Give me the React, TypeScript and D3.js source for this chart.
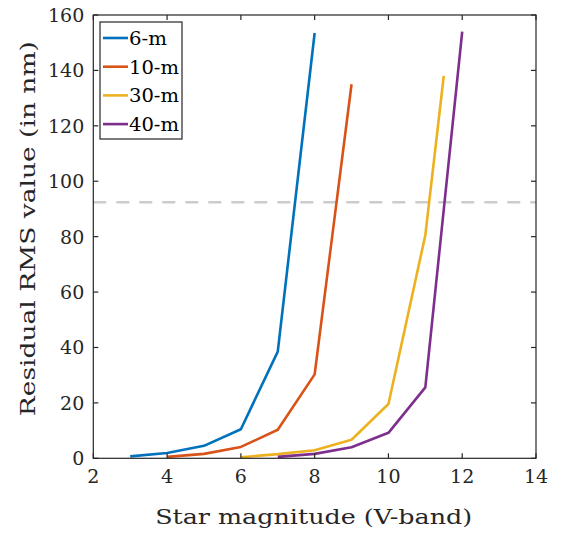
import React from "react";
import * as d3 from "d3";

const seriesNames = ["6-m", "10-m", "30-m", "40-m"];
const colors = ["#0072BD", "#D95319", "#EDB120", "#7E2F8E"];
const mag6 = [3, 4, 5, 6, 7, 8];
const rms6 = [0.7, 1.9, 4.5, 10.5, 38.5, 153.5];
const mag10 = [4, 5, 6, 7, 8, 9];
const rms10 = [0.5, 1.6, 4.1, 10.3, 30.3, 135];
const mag30 = [6, 7, 8, 9, 10, 11, 11.5];
const rms30 = [0.4, 1.5, 2.9, 6.7, 19.6, 80.5, 138];
const mag40 = [7, 8, 9, 10, 11, 12];
const rms40 = [0.5, 1.6, 4.0, 9.2, 25.6, 154];
const xTicks = [2, 4, 6, 8, 10, 12, 14];
const yTicks = [0, 20, 40, 60, 80, 100, 120, 140, 160];
const threshold = 92.4;

export default function App() {
  const W = 570, H = 533;
  const L = 93.3, R = 536, T = 15, B = 458.3;
  const x = d3.scaleLinear().domain([2, 14]).range([L, R]);
  const y = d3.scaleLinear().domain([0, 160]).range([B, T]);
  const line = d3.line<[number, number]>().x(d => x(d[0])).y(d => y(d[1]));
  const series = [
    [mag6, rms6],
    [mag10, rms10],
    [mag30, rms30],
    [mag40, rms40],
  ].map(([m, r]) => m.map((v, i) => [v, r[i]] as [number, number]));
  const font = "DejaVu Serif, serif";
  const axisColor = "#262626";
  const tl = 5;
  return (
    <svg width={W} height={H} style={{ position: "absolute", left: 0, top: 0, fontFamily: font }}>
      <rect width={W} height={H} fill="white" />
      <line x1={L} x2={R} y1={y(threshold)} y2={y(threshold)} stroke="#cccccc" strokeWidth={2.5} strokeDasharray="13,10" />
      {series.map((s, i) => (
        <path key={i} d={line(s) || ""} fill="none" stroke={colors[i]} strokeWidth={2.6} strokeLinejoin="round" />
      ))}
      <rect x={L} y={T} width={R - L} height={B - T} fill="none" stroke={axisColor} strokeWidth={1.2} />
      {xTicks.map(t => (
        <g key={t}>
          <line x1={x(t)} x2={x(t)} y1={B} y2={B - tl} stroke={axisColor} strokeWidth={1.2} />
          <line x1={x(t)} x2={x(t)} y1={T} y2={T + tl} stroke={axisColor} strokeWidth={1.2} />
          <text x={x(t)} y={B + 25} textAnchor="middle" fontSize={19} fill="#262626">{t}</text>
        </g>
      ))}
      {yTicks.map(t => (
        <g key={t}>
          <line x1={L} x2={L + tl} y1={y(t)} y2={y(t)} stroke={axisColor} strokeWidth={1.2} />
          <line x1={R} x2={R - tl} y1={y(t)} y2={y(t)} stroke={axisColor} strokeWidth={1.2} />
          <text x={L - 9} y={y(t) + 7} textAnchor="end" fontSize={19} fill="#262626">{t}</text>
        </g>
      ))}
      <text x={(L + R) / 2 - 1} y={524} textAnchor="middle" fontSize={21} fill="#262626" textLength={317} lengthAdjust="spacingAndGlyphs">Star magnitude (V-band)</text>
      <text transform={`translate(35,${(T + B) / 2 - 8}) rotate(-90)`} textAnchor="middle" fontSize={21} fill="#262626" textLength={375} lengthAdjust="spacingAndGlyphs">Residual RMS value (in nm)</text>
      <g>
        <rect x={100} y={22} width={82} height={117} fill="white" stroke={axisColor} strokeWidth={1.2} />
        {seriesNames.map((n, i) => (
          <g key={n}>
            <line x1={103} x2={128} y1={38 + i * 28.7} y2={38 + i * 28.7} stroke={colors[i]} strokeWidth={2.6} />
            <text x={129} y={38 + i * 28.7 + 7} fontSize={19} fill="#000" textLength={i === 0 ? 38 : 50} lengthAdjust="spacingAndGlyphs">{n}</text>
          </g>
        ))}
      </g>
    </svg>
  );
}
